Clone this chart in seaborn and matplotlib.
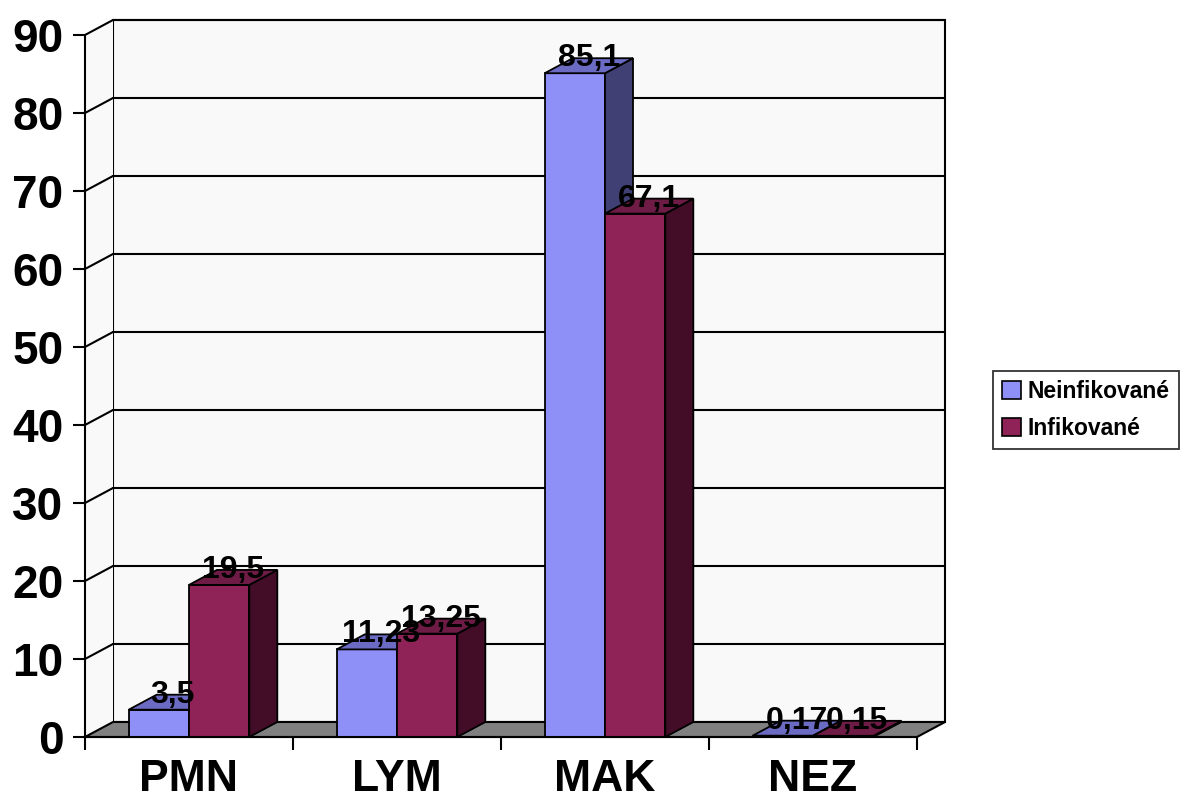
import numpy as np
import pandas as pd
import matplotlib
matplotlib.use("Agg")
import matplotlib.pyplot as plt
from matplotlib.patches import Polygon, Rectangle
import seaborn as sns

# --- data -------------------------------------------------------------
categories = ["PMN", "LYM", "MAK", "NEZ"]
neinfikovane = [3.5, 11.23, 85.1, 0.17]
infikovane = [19.5, 13.25, 67.1, 0.15]
series_names = ["Neinfikované", "Infikované"]
y_ticks = [0, 10, 20, 30, 40, 50, 60, 70, 80, 90]

# --- style ------------------------------------------------------------
sns.set_style("white")
plt.rcParams["font.family"] = ["Liberation Sans", "DejaVu Sans"]
plt.rcParams["font.weight"] = "bold"
plt.rcParams["text.color"] = "black"
plt.rcParams["xtick.color"] = "black"
plt.rcParams["ytick.color"] = "black"
plt.rcParams["xtick.labelcolor"] = "black"
plt.rcParams["ytick.labelcolor"] = "black"

front_cols = ["#8F8FF8", "#8F2257"]
top_cols = ["#6B6BC4", "#6E1B45"]
side_cols = ["#404074", "#430D28"]
wall_col = "#F9F9F9"
floor_col = "#808080"

df = pd.DataFrame({
    "cat": categories * 2,
    "val": neinfikovane + infikovane,
    "grp": [series_names[0]] * len(categories) + [series_names[1]] * len(categories),
})

W, H = 1197, 808
fig = plt.figure(figsize=(W / 100, H / 100), dpi=100)

# plotting box: front plane plus depth offset of the pseudo-3D walls
px_left, px_right, px_top, px_bottom = 85, 945, 20, 737
ax = fig.add_axes([px_left / W, (H - px_bottom) / H,
                   (px_right - px_left) / W, (px_bottom - px_top) / H])

n = len(categories)
cat_px = 208.0                    # pixels per category
ddx = 28.0 / cat_px               # depth shift in x (data units)
ymax_front = 90.0
px_per_unit = 7.80
ddy = 15.0 / px_per_unit          # depth shift in y (data units)

sns.barplot(data=df, x="cat", y="val", hue="grp", order=categories,
            hue_order=series_names, palette=front_cols, width=0.58,
            edgecolor="black", linewidth=1.3, saturation=1, legend=False,
            ax=ax)

ax.set_xlim(-0.5, n - 0.5 + ddx)
ax.set_ylim(0, ymax_front + ddy)
ax.set_facecolor("none")

lw = 1.5
x0w, x1w = -0.5, n - 0.5

# back wall
ax.add_patch(Rectangle((x0w + ddx, ddy), n, ymax_front, facecolor=wall_col,
                       edgecolor="black", linewidth=lw, zorder=0.2, clip_on=False))
# left wall
ax.add_patch(Polygon([(x0w, 0), (x0w + ddx, ddy), (x0w + ddx, ymax_front + ddy),
                      (x0w, ymax_front)], closed=True, facecolor=wall_col,
                     edgecolor="none", zorder=0.2, clip_on=False))
# gridlines on back wall and diagonals on left wall
for v in y_ticks[1:]:
    ax.plot([x0w + ddx, x1w + ddx], [v + ddy, v + ddy], color="black",
            linewidth=lw, zorder=0.4, clip_on=False)
    ax.plot([x0w, x0w + ddx], [v, v + ddy], color="black",
            linewidth=lw, zorder=0.4, clip_on=False)
# floor
ax.add_patch(Polygon([(x0w, 0), (x1w, 0), (x1w + ddx, ddy), (x0w + ddx, ddy)],
                     closed=True, facecolor=floor_col, edgecolor="black",
                     linewidth=lw, zorder=0.6, clip_on=False))

# extrude each bar: top and side faces, labelled with its value
for si, cont in enumerate(ax.containers):
    base_z = 2 + si
    values = [neinfikovane, infikovane][si]
    for bar, v in zip(cont.patches, values):
        bar.set_zorder(base_z)
        bx0 = bar.get_x()
        bx1 = bx0 + bar.get_width()
        h = bar.get_height()
        top = Polygon([(bx0, h), (bx1, h), (bx1 + ddx, h + ddy), (bx0 + ddx, h + ddy)],
                      closed=True, facecolor=top_cols[si], edgecolor="black",
                      linewidth=1.3, zorder=base_z + 0.1, clip_on=False)
        side = Polygon([(bx1, 0), (bx1 + ddx, ddy), (bx1 + ddx, h + ddy), (bx1, h)],
                       closed=True, facecolor=side_cols[si], edgecolor="black",
                       linewidth=1.3, zorder=base_z + 0.1, clip_on=False)
        ax.add_patch(side)
        ax.add_patch(top)
        label = f"{v:g}".replace(".", ",")
        ax.text((bx0 + bx1) / 2 + ddx / 2, h + ddy, label, ha="center",
                va="center", fontsize=23, fontweight="bold", color="black",
                zorder=10, clip_on=False)

# axes lines (front plane)
for s in ["top", "right"]:
    ax.spines[s].set_visible(False)
ax.spines["left"].set_bounds(0, ymax_front)
ax.spines["bottom"].set_bounds(x0w, x1w)
for s in ["left", "bottom"]:
    ax.spines[s].set_linewidth(lw)
    ax.spines[s].set_color("black")
    ax.spines[s].set_zorder(5)

ax.set_yticks(y_ticks)
ax.set_yticklabels([str(t) for t in y_ticks], fontsize=33, fontweight="bold",
                   color="black")
ax.tick_params(axis="y", which="major", length=9, width=lw, pad=6.5,
               left=True, color="black")

ax.set_xticks(range(n))
ax.set_xticklabels(categories, fontsize=32, fontweight="bold", color="black")
ax.set_xticks(np.arange(n + 1) - 0.5, minor=True)
ax.tick_params(axis="x", which="major", length=0, pad=16)
ax.tick_params(axis="x", which="minor", length=9.5, width=lw, bottom=True,
               color="black")
ax.set_xlabel("")
ax.set_ylabel("")
ax.grid(False)

# legend
handles = [Rectangle((0, 0), 1, 1, facecolor=c, edgecolor="black", linewidth=1.2)
           for c in front_cols]
leg = fig.legend(handles, series_names, loc="upper left",
                 bbox_to_anchor=(993 / W, 1 - 371 / H), borderaxespad=0,
                 frameon=True, fancybox=False, edgecolor="black",
                 prop={"size": 16.5, "weight": "bold"}, handlelength=0.8,
                 handleheight=0.8, handletextpad=0.3, labelspacing=0.6,
                 borderpad=0.4)
leg.get_frame().set_linewidth(1.3)
for t in leg.get_texts():
    t.set_color("black")

fig.savefig("out.png", dpi=100, facecolor="white")
